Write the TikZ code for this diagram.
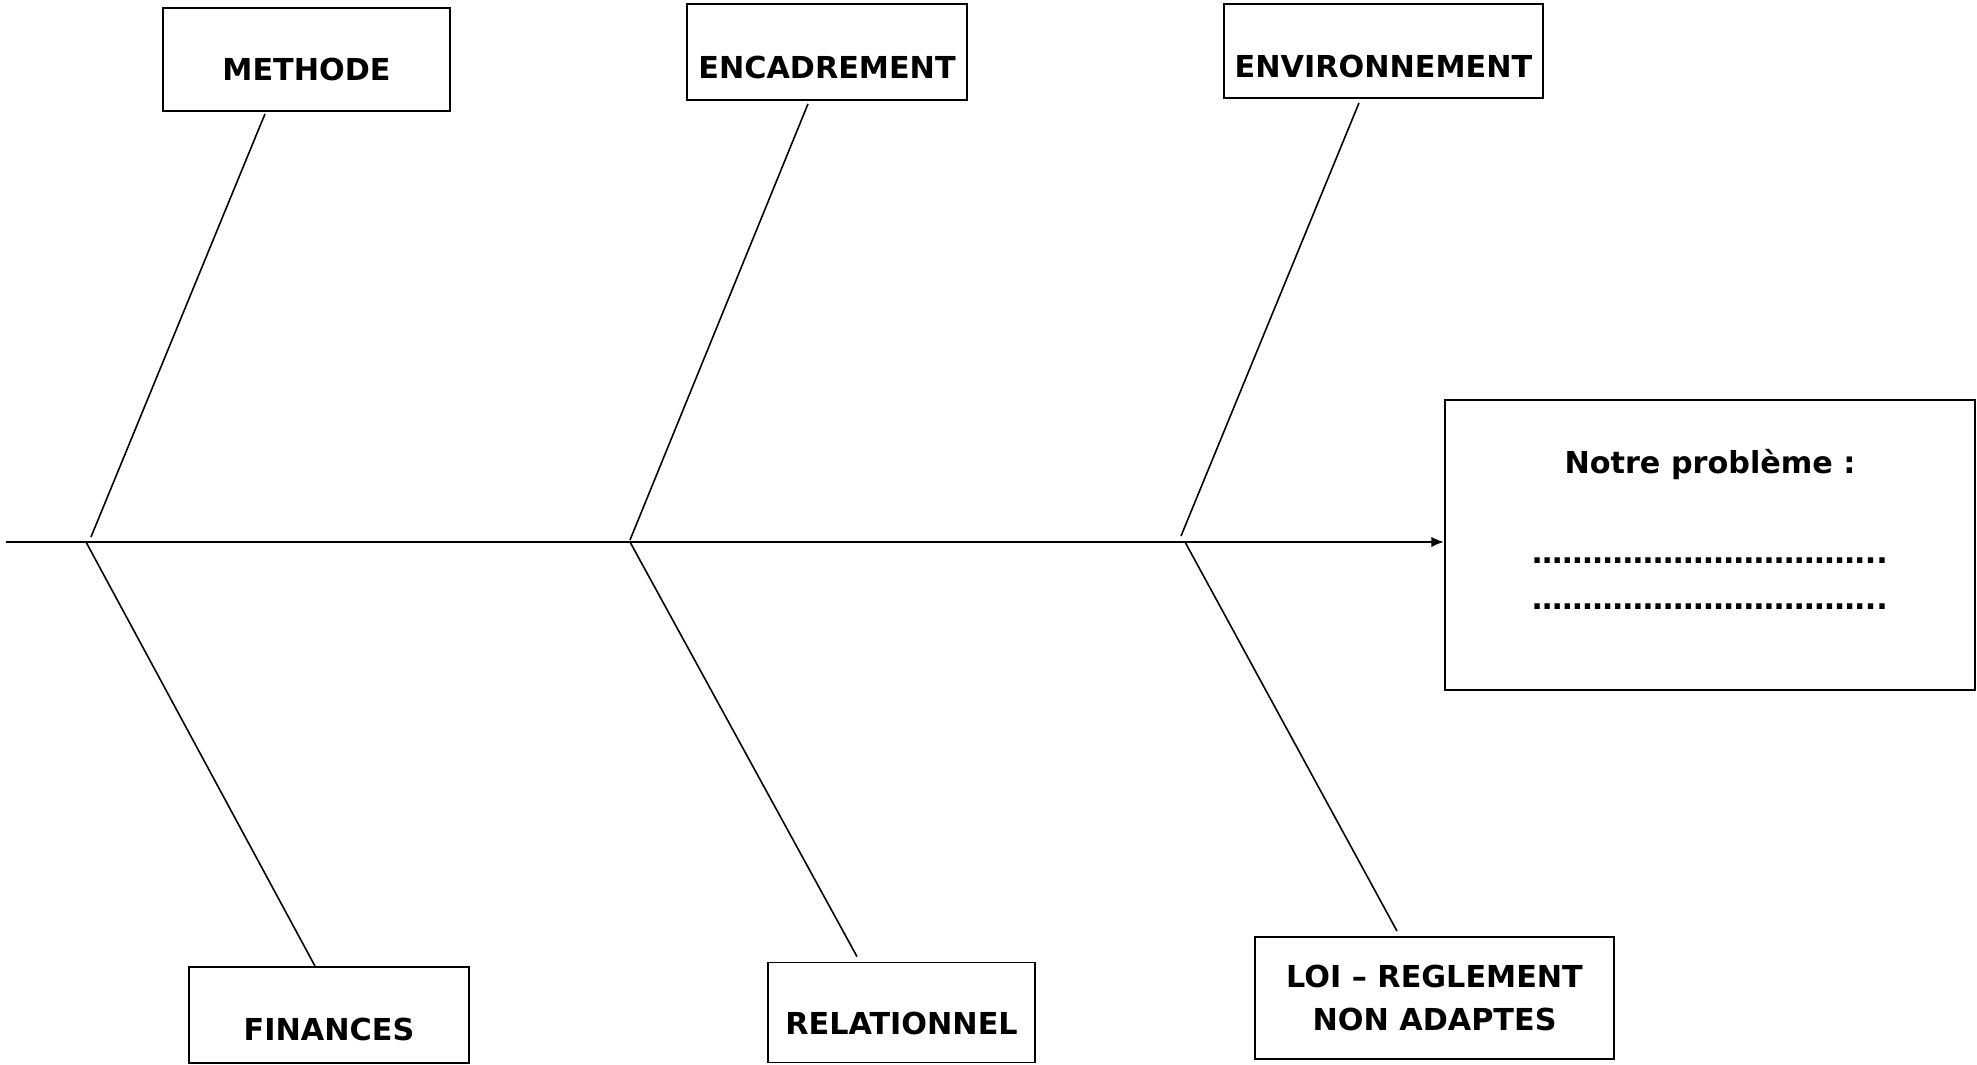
\documentclass[tikz,border=0pt]{standalone}
\usepackage{fontspec}
\setmainfont{DejaVu Sans}
\usetikzlibrary{arrows.meta}
\tikzset{
  causebox/.style={draw, line width=0.5pt, font=\bfseries\fontsize{8.6}{10}\selectfont,
    inner sep=0pt, align=center},
  bone/.style={line width=0.45pt}
}
\begin{document}
\begin{tikzpicture}[x=0.01cm, y=-0.01cm, >={Latex[length=3.6pt,width=3pt]}]
  \useasboundingbox (0,0) rectangle (1977,1065);

  % Problem box (head)
  \node[draw, line width=0.5pt, minimum width=5.30cm, minimum height=2.90cm] (prob) at (1710,545) {};
  \node[font=\bfseries\fontsize{8.6}{10}\selectfont] (probtitle) at (1710,465) {Notre problème :};
  \node[font=\bfseries\fontsize{8.6}{10}\selectfont, align=center] (problines) at (1710,584)
    {……………………………..\\[3pt]……………………………..};

  % Spine
  \coordinate (tail) at (6,542);
  \draw[->, line width=0.6pt] (tail) -- (tail -| prob.west);

  % Cause boxes, top row
  \node[causebox, minimum width=2.87cm, minimum height=1.03cm, text height=0.42cm, text depth=0pt] (meth) at (306.5,59.5) {METHODE};
  \node[causebox, minimum width=2.80cm, minimum height=0.96cm, text height=0.53cm, text depth=0pt] (enca) at (827,52) {ENCADREMENT};
  \node[causebox, minimum width=3.19cm, minimum height=0.94cm, text height=0.53cm, text depth=0pt] (envi) at (1383.5,51) {ENVIRONNEMENT};

  % Cause boxes, bottom row
  \node[causebox, minimum width=2.80cm, minimum height=0.96cm, text height=0.51cm, text depth=0pt] (fina) at (329,1015) {FINANCES};
  \node[causebox, minimum width=2.67cm, minimum height=1.00cm, text height=0.44cm, text depth=0pt] (rela) at (901.5,1012.5) {RELATIONNEL};
  \node[causebox, minimum width=3.59cm, minimum height=1.22cm] (loi) at (1434.5,998) {LOI -- REGLEMENT\\[2pt]NON ADAPTES};

  % Points on the spine
  \coordinate (u1) at (91,537);   \coordinate (l1) at (86,542);
  \coordinate (u2) at (630,540);  \coordinate (l2) at (630,542);
  \coordinate (u3) at (1181,536); \coordinate (l3) at (1185,542);

  % Bones
  \draw[bone] (u1) -- ([xshift=-0.415cm, yshift=-0.02cm]meth.south);
  \draw[bone] (u2) -- ([xshift=-0.19cm, yshift=-0.03cm]enca.south);
  \draw[bone] (u3) -- ([xshift=-0.245cm, yshift=-0.04cm]envi.south);
  \draw[bone] (l1) -- ([xshift=-0.14cm]fina.north);
  \draw[bone] (l2) -- ([xshift=-0.445cm, yshift=0.05cm]rela.north);
  \draw[bone] (l3) -- ([xshift=-0.375cm, yshift=0.05cm]loi.north);
\end{tikzpicture}
\end{document}
